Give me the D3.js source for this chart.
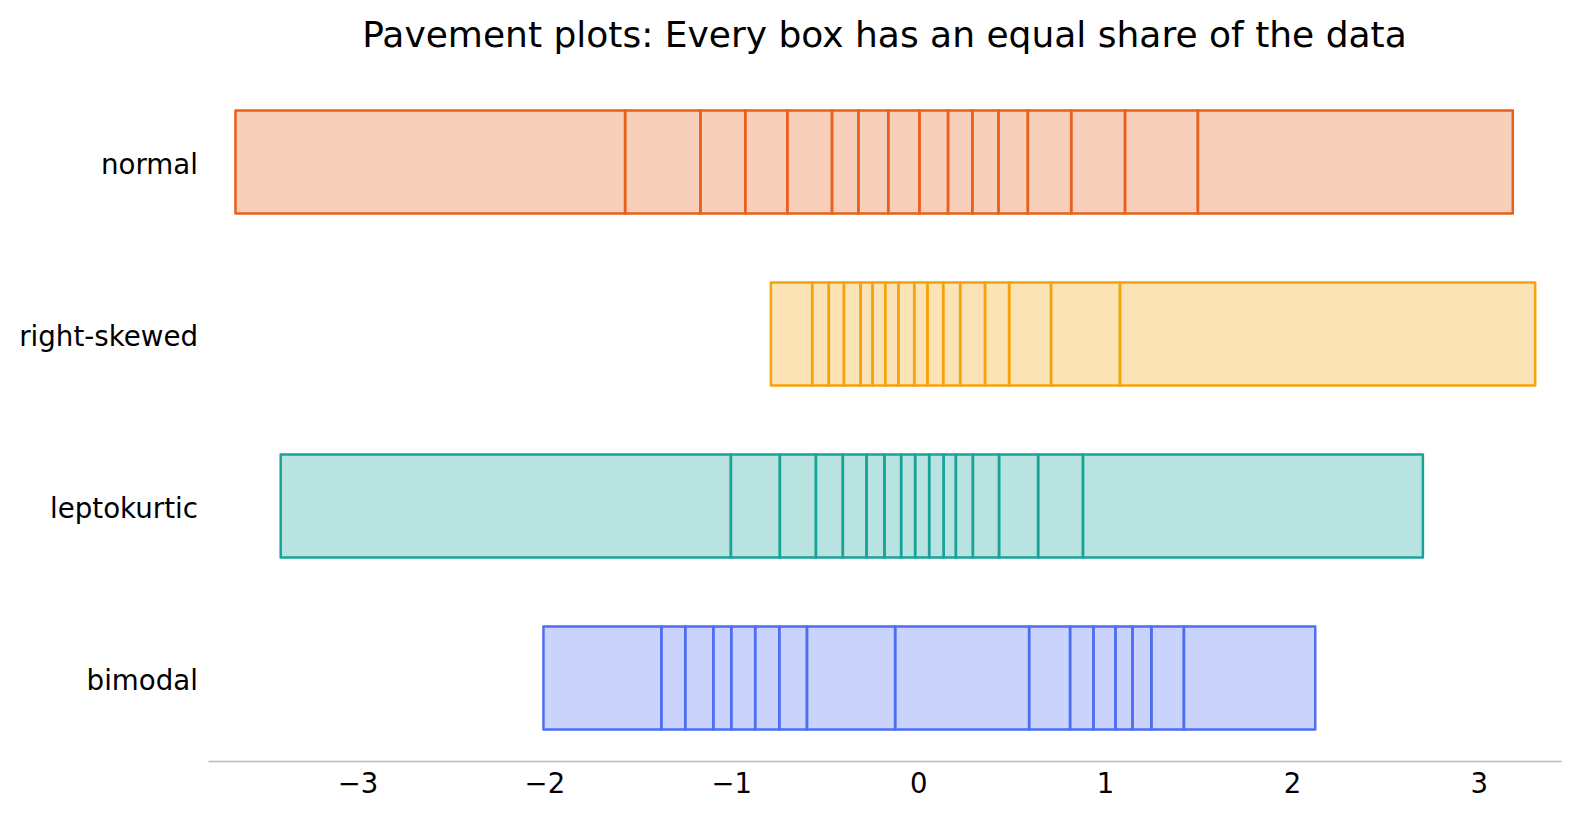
<!DOCTYPE html>
<html>
<head>
<meta charset="utf-8">
<script src="https://cdn.jsdelivr.net/npm/d3@7"></script>
<style>
  body { margin: 0; background: #fff; }
  text { font-family: "DejaVu Sans", sans-serif; fill: #000; }
</style>
</head>
<body>
<script>
const [width, height] = [1580, 819];

// row categories, top to bottom
const rows = ["normal", "right-skewed", "leptokurtic", "bimodal"];
const colors = ["#e8601c", "#f5a30a", "#17a398", "#4e6ef2"];

// box edges (quantile boundaries), one list per row
const normalEdges = [-3.653, -1.568, -1.165, -0.925, -0.700, -0.461, -0.320, -0.160,
  0.007, 0.160, 0.290, 0.430, 0.587, 0.819, 1.107, 1.497, 3.182];
const skewedEdges = [-0.788, -0.567, -0.478, -0.397, -0.308, -0.244, -0.176, -0.105,
  -0.021, 0.050, 0.134, 0.225, 0.358, 0.487, 0.711, 1.080, 3.302];
const leptoEdges = [-3.411, -1.002, -0.740, -0.547, -0.403, -0.276, -0.180, -0.091,
  -0.016, 0.059, 0.137, 0.202, 0.293, 0.433, 0.642, 0.882, 2.701];
const bimodalEdges = [-2.005, -1.374, -1.246, -1.096, -1.000, -0.872, -0.743, -0.595,
  -0.123, 0.594, 0.813, 0.938, 1.056, 1.147, 1.248, 1.422, 2.125];

const xTicks = [-3, -2, -1, 0, 1, 2, 3];

const allEdges = [normalEdges, skewedEdges, leptoEdges, bimodalEdges];

const margin = { left: 208, right: 19, top: 76, bottom: 55 };

const x = d3
  .scaleLinear()
  .domain([-3.8, 3.44])
  .range([margin.left, width - margin.right]);

const y = d3
  .scaleBand()
  .domain(rows)
  .range([margin.top, height - margin.bottom])
  .paddingInner(0.4)
  .paddingOuter(0.2);

const svg = d3
  .select("body")
  .append("svg")
  .attr("width", width)
  .attr("height", height);

svg
  .append("text")
  .attr("x", (x.range()[0] + x.range()[1]) / 2)
  .attr("y", 47)
  .attr("text-anchor", "middle")
  .style("font-size", "36px")
  .text("Pavement plots: Every box has an equal share of the data");

// build boxes: consecutive edge pairs
const boxes = [];
rows.forEach((r, i) => {
  const e = allEdges[i];
  for (let k = 0; k < e.length - 1; k++) {
    boxes.push({ row: r, color: colors[i], x0: e[k], x1: e[k + 1] });
  }
});

svg
  .append("g")
  .classed("boxes", true)
  .selectAll("rect")
  .data(boxes)
  .enter()
  .append("rect")
  .attr("x", d => x(d.x0))
  .attr("width", d => x(d.x1) - x(d.x0))
  .attr("y", d => y(d.row))
  .attr("height", y.bandwidth())
  .attr("fill", d => d.color)
  .attr("fill-opacity", 0.3)
  .attr("stroke", d => d.color)
  .attr("stroke-width", 2.5)
  .attr("stroke-linejoin", "round");

// y labels
svg
  .append("g")
  .selectAll("text")
  .data(rows)
  .enter()
  .append("text")
  .attr("x", 198)
  .attr("y", d => y(d) + y.bandwidth() / 2 + 11.5)
  .attr("text-anchor", "end")
  .style("font-size", "27.7px")
  .text(d => d);

// x axis: only the baseline, no tick marks
const xAxis = svg
  .append("g")
  .attr("transform", "translate(0,761)")
  .call(
    d3.axisBottom(x)
      .tickValues(xTicks)
      .tickSize(0)
      .tickPadding(0)
      .tickFormat(d => (d < 0 ? "\u2212" + Math.abs(d) : String(d)))
  );

xAxis.select(".domain").attr("stroke", "#bbbbbb").attr("stroke-width", 1.5);
xAxis
  .selectAll(".tick text")
  .attr("dy", null)
  .attr("y", 32)
  .style("font-size", "27.5px")
  .style("font-family", "DejaVu Sans, sans-serif")
  .attr("fill", "#000");
</script>
</body>
</html>
